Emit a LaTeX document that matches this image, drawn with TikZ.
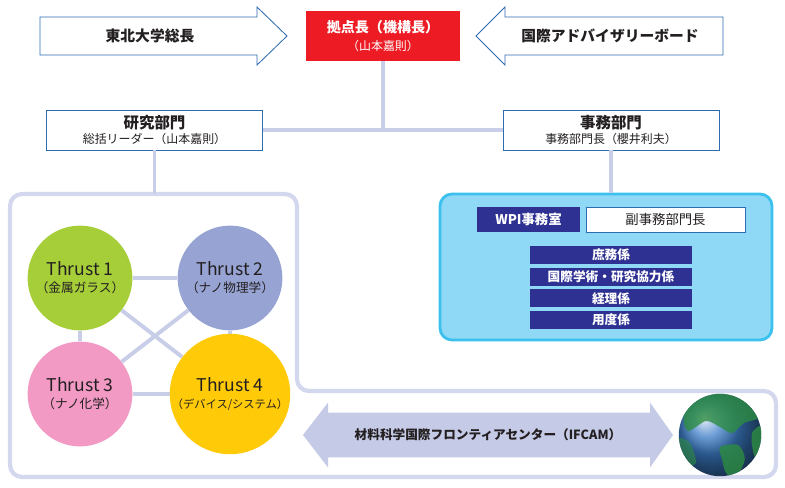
\documentclass[tikz,border=0pt]{standalone}
\usepackage{fontspec}
\setmainfont{Noto Sans CJK JP}
\usetikzlibrary{backgrounds}

\definecolor{linkgray}{RGB}{200,205,232}
\definecolor{framegray}{RGB}{212,216,238}
\definecolor{boxblue}{RGB}{46,108,176}
\definecolor{wpired}{RGB}{237,28,36}
\definecolor{navy}{RGB}{46,49,146}
\definecolor{skyfill}{RGB}{143,216,246}
\definecolor{skyedge}{RGB}{60,192,238}
\definecolor{textgray}{RGB}{35,31,32}
\definecolor{thgreen}{RGB}{166,206,57}
\definecolor{thblue}{RGB}{150,163,211}
\definecolor{thpink}{RGB}{242,154,196}
\definecolor{thyellow}{RGB}{255,203,8}
\definecolor{arrowfill}{RGB}{197,202,230}
\definecolor{globeblue}{RGB}{60,125,200}
\definecolor{landgreen}{RGB}{45,140,65}

\begin{document}
\begin{tikzpicture}
  [
    link/.style={draw=linkgray, line width=2.8pt},
    bigarrow/.style={draw=boxblue, line width=0.6pt, fill=white},
    toptext/.style={text=textgray, font=\bfseries\fontsize{10.5}{12}\selectfont},
    unit/.style={draw=boxblue, line width=0.6pt, fill=white,
    minimum width=5.4cm, minimum height=1cm, align=center,
    text=textgray, inner sep=0pt},
    thrust/.style={circle, minimum size=2.62cm, align=center,
    text=textgray, inner sep=0pt},
    sect/.style={fill=navy, text=white, minimum width=4.05cm,
    minimum height=0.45cm, inner sep=0pt,
    font=\bfseries\fontsize{9}{10}\selectfont}
  ]
  \useasboundingbox (0,0) rectangle (19.625,-12.175);

  % top row
  \draw [bigarrow] (1.0,-0.425) -- (6.425,-0.425) -- (6.425,-0.175)
    -- (7.175,-0.9) -- (6.425,-1.625) -- (6.425,-1.375) -- (1.0,-1.375) -- cycle;
  \node (pres) at (3.75,-0.9) [toptext] {東北大学総長};
  \draw [bigarrow] (18.075,-0.425) -- (12.625,-0.425) -- (12.625,-0.175)
    -- (11.9,-0.9) -- (12.625,-1.625) -- (12.625,-1.375) -- (18.075,-1.375) -- cycle;
  \node (board) at (15.25,-0.9) [toptext] {国際アドバイザリーボード};
  \node (chief) at (9.575,-0.9) [fill=wpired, text=white, align=center,
    minimum width=3.85cm, minimum height=1.25cm, inner sep=0pt]
    {{\bfseries\fontsize{10}{12}\selectfont 拠点長（機構長）}\\[1pt]
     {\fontsize{8.5}{10}\selectfont （山本嘉則）}};

  \node (res) at (3.8625,-3.25) [unit]
    {{\bfseries\fontsize{11}{12}\selectfont 研究部門}\\[-1pt]
     {\fontsize{8.5}{10}\selectfont 総括リーダー（山本嘉則）}};
  \node (adm) at (15.275,-3.25) [unit]
    {{\bfseries\fontsize{11}{12}\selectfont 事務部門}\\[-1pt]
     {\fontsize{8.5}{10}\selectfont 事務部門長（櫻井利夫）}};
  \draw [link] (res.east) -- (adm.west);
  \draw [link] (chief.south) -- (chief.south |- res.east);

  % research frame
  \draw [draw=framegray, line width=3pt, rounded corners=0.3cm]
    (0.25,-4.85) -- (7.425,-4.85) -- (7.425,-9.775) -- (19.4,-9.775)
    -- (19.4,-11.925) -- (0.25,-11.925) -- cycle;
  \coordinate (rtop) at (3.8625,-4.85);
  \draw [link] (res.south) -- (rtop);

  \node (t1) at (2.0,-6.95)  [thrust, fill=thgreen]
    {{\fontsize{12.5}{13}\selectfont Thrust 1}\\{\fontsize{9}{10}\selectfont （金属ガラス）}};
  \node (t2) at (5.75,-6.95) [thrust, fill=thblue]
    {{\fontsize{12.5}{13}\selectfont Thrust 2}\\{\fontsize{9}{10}\selectfont （ナノ物理学）}};
  \node (t3) at (2.0,-9.85)  [thrust, fill=thpink]
    {{\fontsize{12.5}{13}\selectfont Thrust 3}\\{\fontsize{9}{10}\selectfont （ナノ化学）}};
  \node (t4) at (5.75,-9.85) [thrust, fill=thyellow]
    {{\fontsize{12.5}{13}\selectfont Thrust 4}\\{\fontsize{8}{10}\selectfont （デバイス/システム）}};
  \begin{scope}[on background layer]
    \draw [link] (t1) -- (t2);
    \draw [link] (t3) -- (t4);
    \draw [link] (t1) -- (t3);
    \draw [link] (t2) -- (t4);
    \draw [link] (t1) -- (t4);
    \draw [link] (t2) -- (t3);
  \end{scope}

  % administration office
  \node (office) at (15.15,-6.675) [draw=skyedge, line width=2pt, fill=skyfill,
    rounded corners=0.3cm, minimum width=8.3cm, minimum height=3.65cm] {};
  \draw [link] (adm.south) -- (adm.south |- office.north);
  \node (wpi) at (13.2125,-5.4875) [fill=navy, text=white, minimum width=2.575cm,
    minimum height=0.625cm, inner sep=0pt, font=\bfseries\fontsize{9.5}{10}\selectfont]
    {WPI事務室};
  \node (vice) at (16.6375,-5.4875) [draw=boxblue, line width=0.6pt, fill=white,
    text=textgray, minimum width=3.975cm, minimum height=0.625cm, inner sep=0pt,
    font=\fontsize{9.5}{10}\selectfont] {副事務部門長};
  \node (s1) at (15.275,-6.375) [sect] {庶務係};
  \node (s2) at (15.275,-6.915) [sect] {国際学術・研究協力係};
  \node (s3) at (15.275,-7.455) [sect] {経理係};
  \node (s4) at (15.275,-7.995) [sect] {用度係};

  % IFCAM
  \fill [arrowfill] (7.575,-10.875) -- (8.2,-10.065) -- (8.2,-10.315)
    -- (16.25,-10.315) -- (16.25,-10.065) -- (16.825,-10.875)
    -- (16.25,-11.685) -- (16.25,-11.435) -- (8.2,-11.435)
    -- (8.2,-11.685) -- cycle;
  \node (ifcam) at (12.2,-10.875) [text=textgray, font=\bfseries\fontsize{9}{10}\selectfont]
    {材料科学国際フロンティアセンター（IFCAM）};

  \node (globe) at (18.0,-10.875) [circle, minimum size=2.06cm, inner sep=0pt,
    ball color=globeblue] {};
  \begin{scope}[shift={(globe.center)}]
    \clip (0,0) circle (1.03);
    \fill [landgreen, opacity=0.8] plot [smooth cycle] coordinates
      {(-0.9,0.5) (-0.5,0.95) (0.2,1.1) (0.8,0.85) (1.0,0.45) (0.6,0.3)
       (0.3,0.05) (0.0,0.2) (-0.35,0.35) (-0.8,0.1)};
    \fill [landgreen, opacity=0.8] plot [smooth cycle] coordinates
      {(0.0,-0.3) (0.45,-0.25) (0.62,-0.6) (0.4,-1.05) (0.15,-0.95) (0.05,-0.6)};
    \fill [landgreen, opacity=0.8] plot [smooth cycle] coordinates
      {(0.8,0.05) (1.1,0.2) (1.1,-0.8) (0.85,-0.5)};
    \fill [landgreen, opacity=0.6] plot [smooth cycle] coordinates
      {(-1.05,-0.1) (-0.75,-0.2) (-0.6,-0.7) (-0.9,-0.75)};
  \end{scope}
\end{tikzpicture}
\end{document}
